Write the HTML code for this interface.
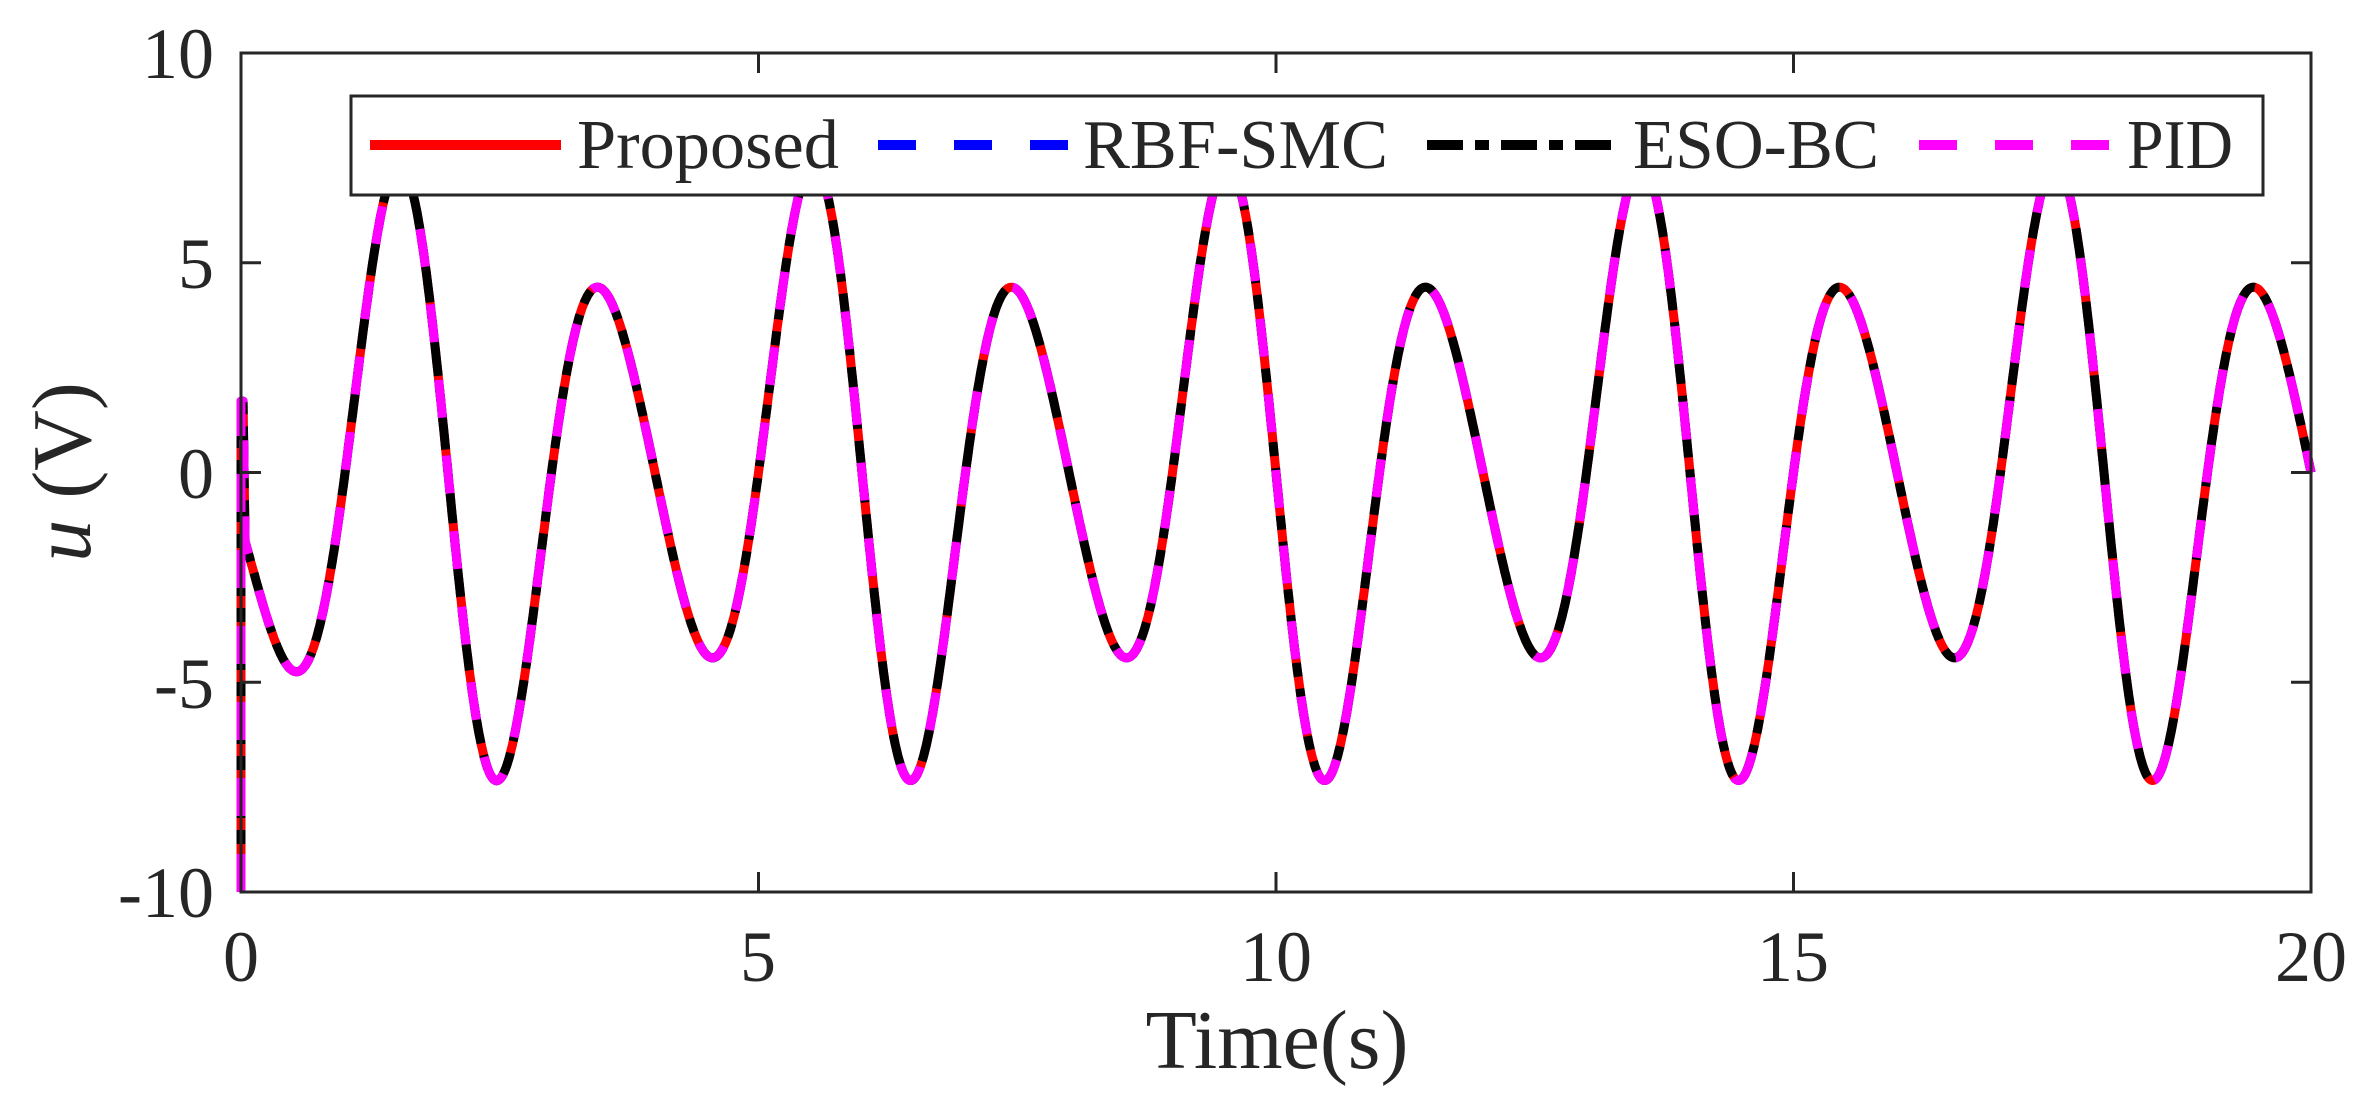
<!DOCTYPE html>
<html><head><meta charset="utf-8"><style>
body{margin:0;background:#fff}
svg{display:block}
text{font-family:"Liberation Serif",serif;fill:#262626}
</style></head><body>
<svg id="s" width="2361" height="1104" xmlns="http://www.w3.org/2000/svg">
<g id="curves"></g>
<g stroke="#262626" stroke-width="3" fill="none">
<rect x="241" y="53" width="2070" height="839"/>
<path id="ticks" d=""/>
</g>
<g font-size="72" text-anchor="end">
<text x="214" y="78">10</text>
<text x="214" y="288">5</text>
<text x="214" y="498">0</text>
<text x="214" y="708">-5</text>
<text x="214" y="917">-10</text>
</g>
<g font-size="72" text-anchor="middle">
<text x="241" y="981">0</text>
<text x="758" y="981">5</text>
<text x="1276" y="981">10</text>
<text x="1793" y="981">15</text>
<text x="2311" y="981">20</text>
</g>
<text x="1277" y="1068" font-size="84" text-anchor="middle">Time(s)</text>
<text transform="translate(90,472) rotate(-90)" font-size="84" text-anchor="middle"><tspan font-style="italic">u</tspan> (V)</text>
<rect x="351" y="96" width="1912" height="99" fill="#fff" stroke="#262626" stroke-width="3"/>
<g stroke-width="10">
<line x1="370" y1="145" x2="561" y2="145" stroke="#ff0000"/>
<line x1="878" y1="145" x2="1069" y2="145" stroke="#0000ff" stroke-dasharray="38,38"/>
<line x1="1427" y1="145" x2="1618" y2="145" stroke="#000" stroke-dasharray="36,12,14,12"/>
<line x1="1919" y1="145" x2="2111" y2="145" stroke="#ff00ff" stroke-dasharray="38,38"/>
</g>
<g font-size="70">
<text x="577" y="168" textLength="262" lengthAdjust="spacingAndGlyphs">Proposed</text>
<text x="1083" y="168" textLength="305" lengthAdjust="spacingAndGlyphs">RBF-SMC</text>
<text x="1633" y="168" textLength="246" lengthAdjust="spacingAndGlyphs">ESO-BC</text>
<text x="2127" y="168" textLength="106" lengthAdjust="spacingAndGlyphs">PID</text>
</g>
</svg>
<script>
var X=t=>241+t*103.5,Y=u=>472.5-u*41.95;
function f(t){var e=5.83+2.09*Math.cos(Math.PI*(t-2)/2);return e*Math.sin(Math.PI*(t-1))-1.3*Math.exp(-t/0.4)*Math.min(1,t/0.03);}
var d="M"+X(0)+","+Y(-10)+"L"+X(0)+","+Y(1.7)+"L"+X(0.02)+","+Y(1.7);
for(var t=0.04;t<=20.0001;t+=0.01){d+="L"+X(t).toFixed(1)+","+Y(f(t)).toFixed(1);}
var st=[["#ff0000",""],["#0000ff","38,38"],["#000","36,12,14,12"],["#ff00ff","38,38"]];
var g=document.getElementById("curves"),h="";
st.forEach(s=>{h+='<path d="'+d+'" fill="none" stroke="'+s[0]+'" stroke-width="9" stroke-linejoin="round"'+(s[1]?' stroke-dasharray="'+s[1]+'"':'')+'/>';});
g.innerHTML=h;
var k="";
[0,5,10,15,20].forEach(v=>{var x=X(v);k+="M"+x+",892v-20M"+x+",53v20";});
[-10,-5,0,5,10].forEach(v=>{var y=Y(v);k+="M241,"+y+"h20M2311,"+y+"h-20";});
document.getElementById("ticks").setAttribute("d",k);
</script>
</body></html>
